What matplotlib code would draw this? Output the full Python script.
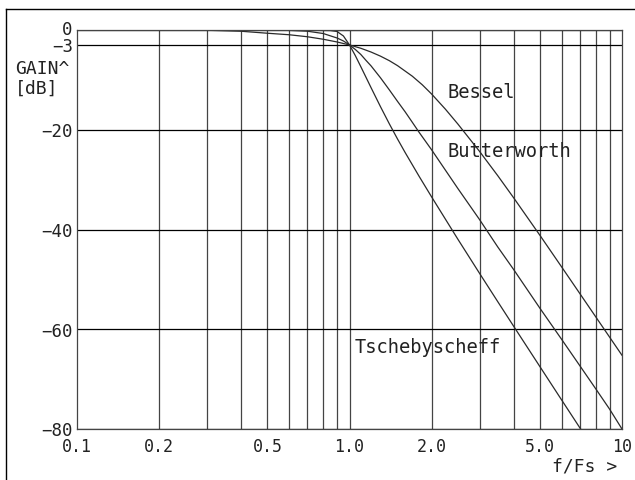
import matplotlib
matplotlib.use('Agg')
import matplotlib.pyplot as plt
from matplotlib.lines import Line2D
from matplotlib.ticker import FixedLocator, NullFormatter
from matplotlib.transforms import ScaledTranslation

# values (f/Fs, gain in dB)
bessel_f = [0.27, 0.3, 0.4, 0.5, 0.6, 0.7, 0.8, 0.9, 1.0, 1.1, 1.2, 1.3, 1.4, 1.5, 1.7, 1.85,
            2.0, 2.25, 2.5, 3.0, 3.5, 4.0, 5.0, 6.0, 7.0, 8.0, 9.0, 10.0]
bessel_db = [0.0, -0.05, -0.25, -0.65, -0.95, -1.35, -1.85, -2.4, -3.0, -3.66, -4.42, -5.25, -6.15, -7.14, -9.26, -10.99,
             -12.82, -15.89, -18.87, -24.33, -29.21, -33.62, -41.18, -47.48, -52.83, -57.47, -61.56, -65.22]

butter_f = [0.27, 0.5, 0.6, 0.7, 0.8, 0.9, 0.95, 1.0, 1.05, 1.1, 1.15, 1.2, 1.3, 1.4, 1.5, 1.6, 1.7, 1.8,
            2.0, 2.5, 3.0, 3.5, 4.0, 5.0, 6.0, 7.0, 8.0, 9.0, 10.0]
butter_db = [0.0, -0.02, -0.07, -0.24, -0.7, -1.6, -2.2, -3.0, -3.9, -4.9, -6.1, -7.2, -9.6, -12.0, -14.3, -16.4, -18.5, -20.5,
             -24.0, -31.8, -38.0, -43.5, -48.0, -55.8, -62.0, -67.3, -71.9, -76.0, -80.0]

tscheb_f = [0.27, 0.5, 0.7, 0.85, 0.9, 0.95, 1.0, 1.05, 1.1, 1.15, 1.2, 1.3, 1.4, 1.5, 1.6, 1.8,
            2.0, 2.5, 3.0, 3.5, 4.0, 5.0, 6.0, 7.05]
tscheb_db = [0.0, 0.0, -0.05, -0.1, -0.3, -1.2, -3.0, -5.12, -7.34, -9.5, -11.57, -15.4, -18.81, -21.84, -24.56, -29.32,
             -33.44, -41.97, -48.78, -54.47, -59.37, -67.51, -74.15, -80.0]

y_ticks = [0, -3, -20, -40, -60, -80]
x_ticks = [0.1, 0.2, 0.5, 1.0, 2.0, 5.0, 10.0]
x_labels = ['0.1', '0.2', '0.5', '1.0', '2.0', '5.0', '10']
x_grid = [0.2, 0.3, 0.4, 0.5, 0.6, 0.7, 0.8, 0.9, 1, 2, 3, 4, 5, 6, 7, 8, 9]

plt.rcParams['font.family'] = ['DejaVu Sans Mono']
ink = '#222222'

fig = plt.figure(figsize=(6.35, 4.81), dpi=100)
ax = fig.add_axes([77/635, 1-430/481, 545/635, 399/481])

ax.set_xscale('log')
ax.set_xlim(0.1, 10)
ax.set_ylim(-80, 0)

for xv in x_grid:
    ax.axvline(xv, color='#444444', lw=0.9, zorder=1)
for yv in y_ticks:
    ax.axhline(yv, color='black', lw=0.9, zorder=1)

ax.plot(bessel_f, bessel_db, color='#2a2a2a', lw=0.9, zorder=2)
ax.plot(butter_f, butter_db, color='#2a2a2a', lw=0.9, zorder=2)
ax.plot(tscheb_f, tscheb_db, color='#2a2a2a', lw=0.9, zorder=2)

ax.xaxis.set_major_locator(FixedLocator(x_ticks))
ax.xaxis.set_minor_locator(FixedLocator([]))
ax.xaxis.set_minor_formatter(NullFormatter())
ax.set_xticklabels(x_labels)
ax.set_yticks(y_ticks)
ax.set_yticklabels([str(v).replace('-', '\u2212') for v in y_ticks])
ax.tick_params(length=0, labelcolor=ink)
ax.tick_params(axis='x', pad=6, labelsize=12)
ax.tick_params(axis='y', pad=3, labelsize=12.5)

# nudge the crowded 0 / -3 labels upward a little
shifts = {0: 2.5, -3: 1.0}
for lab, v in zip(ax.get_yticklabels(), y_ticks):
    up = shifts.get(v, 0.5)
    lab.set_transform(lab.get_transform() + ScaledTranslation(0, up/100, fig.dpi_scale_trans))

for s in ax.spines.values():
    s.set_color('#444444')
    s.set_linewidth(0.9)

ax.text(2.28, -12.4, 'Bessel', fontsize=13.5, color=ink, va='center', ha='left')
ax.text(2.28, -24.2, 'Butterworth', fontsize=13.5, color=ink, va='center', ha='left')
ax.text(1.047, -63.4, 'Tschebyscheff', fontsize=13.5, color=ink, va='center', ha='left')

fig.text(15/635, 1-69/481, 'GAIN^', fontsize=13, color=ink, va='center', ha='left')
fig.text(15/635, 1-89/481, '[dB]', fontsize=13, color=ink, va='center', ha='left')
fig.text(585/635, 1-467/481, 'f/Fs >', fontsize=13, color=ink, va='center', ha='center')

# outer frame (top and left edges visible)
fig.add_artist(Line2D([6/635, 6/635], [0, 1-10/481], color='black', lw=1.0))
fig.add_artist(Line2D([6/635, 1], [1-10/481, 1-10/481], color='black', lw=1.0))

fig.savefig('out.png', dpi=100)
